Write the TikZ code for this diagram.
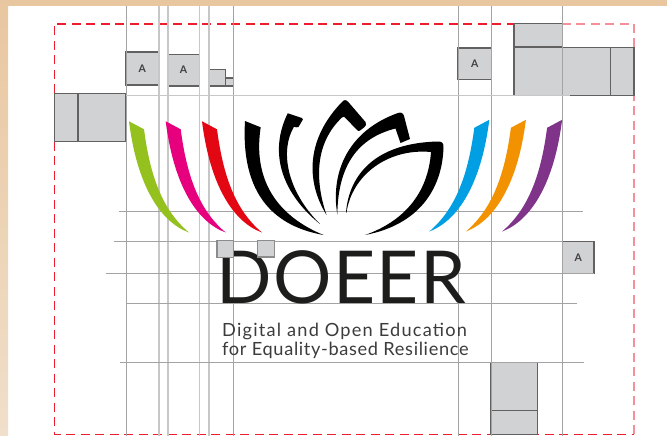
\documentclass[tikz,border=0pt]{standalone}
\usepackage{fontspec}
\setmainfont{Lato}
\definecolor{boxgrey}{HTML}{D1D2D4}
\definecolor{logoink}{HTML}{1D1D1B}
\definecolor{subink}{HTML}{3C3C3B}
\definecolor{petalgreen}{HTML}{95C11F}
\definecolor{petalmagenta}{HTML}{E6007E}
\definecolor{petalred}{HTML}{E30613}
\definecolor{petalblue}{HTML}{009FE3}
\definecolor{petalorange}{HTML}{F39200}
\definecolor{petalpurple}{HTML}{7F3489}
\definecolor{tantop}{HTML}{E8C7A0}
\definecolor{tanbottom}{HTML}{F0DFCB}
\definecolor{cutred}{HTML}{ED1C2E}
\definecolor{cutpink}{HTML}{F4909A}
\begin{document}
\begin{tikzpicture}[x=1pt,y=-1pt,
  gbox/.style={draw=black!62,fill=boxgrey,line width=1.1pt,inner sep=0pt,outer sep=0pt,anchor=north west,text=black!75,font=\fontsize{10.5}{10.5}\selectfont\bfseries},
  guide/.style={draw=black!36,line width=0.8pt},
  guidelight/.style={draw=black!22,line width=1.3pt},
  cutline/.style={line width=1.2pt,dash pattern=on 9pt off 5.5pt},
  logotext/.style={inner sep=0pt,anchor=base west,text=logoink}]
\useasboundingbox (0,0) rectangle (667,436);
\fill[white] (0,0) rectangle (667,436);
\shade[top color=tantop,bottom color=tanbottom] (0,0) rectangle (8,436);
\fill[tantop] (0,0) rectangle (667,6);
% cut marks
\draw[cutline,draw=cutred] (54.3,93.5) -- (54.3,24) -- (514,24);
\draw[cutline,draw=cutred] (54.3,141.5) -- (54.3,434.3) -- (634,434.3);
\draw[cutline,line width=1.3pt,draw=cutpink] (634,434.3) -- (634,95.5);
\draw[cutline,line width=1.3pt,draw=cutpink] (634,47.5) -- (634,24) -- (562.4,24);
% clear-space boxes
\node[gbox,minimum width=32.5pt,minimum height=33pt] (a1) at (126,52) {A};
\node[gbox,minimum width=32pt,minimum height=31.7pt] (a2) at (167.5,54.3) {A};
\node[gbox,minimum width=16.5pt,minimum height=16.5pt] (s1) at (209,69.5) {};
\node[gbox,minimum width=7.7pt,minimum height=8pt] (s2) at (225.5,78) {};
\node[gbox,minimum width=23.7pt,minimum height=48pt] (l1) at (54.3,93.5) {};
\node[gbox,minimum width=48pt,minimum height=48pt] (l2) at (78,93.5) {};
\node[gbox,minimum width=33.5pt,minimum height=31.7pt] (a3) at (458,48) {A};
\node[gbox,minimum width=48.5pt,minimum height=23.5pt] (t1) at (514,23.5) {};
\node[gbox,minimum width=96.7pt,minimum height=48pt] (t2) at (514,47.5) {};
\node[gbox,minimum width=23.3pt,minimum height=48pt] (t3) at (610.7,47.5) {};
\node[gbox,minimum width=31.3pt,minimum height=31.6pt] (a4) at (562.7,241.7) {A};
\node[gbox,minimum width=47pt,minimum height=48.2pt] (b1) at (490.7,362.5) {};
\node[gbox,minimum width=47pt,minimum height=23.8pt] (b2) at (490.7,410.7) {};
% guides
\foreach \gx in {126,233.3,458,491.3,562.4} \draw[guide] (\gx,6) -- (\gx,436);
\foreach \gx in {159,168,199.7,209} \draw[guidelight] (\gx,6) -- (\gx,436);
\draw[guidelight,line width=1pt] (126,96) -- (570,96);
\draw[guide] (118.5,211) -- (582.7,211);
\draw[guide] (114,241.7) -- (562.7,241.7);
\draw[guide] (106,273.3) -- (594,273.3);
\draw[guide] (126,303.3) -- (576.7,303.3);
\draw[guide] (119.5,362.3) -- (584,362.3);
% colour side petals
\def\leftpetal#1#2{\fill[#1,shift={(#2,0)}] (129,121.3) -- (144,129.3) .. controls (150,175) and (162,210) .. (189,232.5) .. controls (160,222) and (137,185) .. (129,121.3) -- cycle;}
\def\rightpetal#1#2{\fill[#1,shift={(#2,-1.5)}] (489.3,121.3) -- (474.3,129.3) .. controls (468.3,175) and (456.3,210) .. (429.3,233) .. controls (458.3,222) and (481.3,185) .. (489.3,121.3) -- cycle;}
\leftpetal{petalgreen}{0}
\leftpetal{petalmagenta}{36.7}
\leftpetal{petalred}{73}
\rightpetal{petalblue}{0}
\rightpetal{petalorange}{36.6}
\rightpetal{petalpurple}{72.8}
% black lotus
\fill[black] (245,121) -- (260.7,127.3) .. controls (254,170) and (268,212) .. (323.5,235) .. controls (285,228) and (240,205) .. (245,121) -- cycle;
\fill[black] (287.7,113.3) -- (302,118) .. controls (303,119) and (303,120) .. (302,121) -- (298.5,127) .. controls (297,128) and (295,127) .. (294,126.7) .. controls (280,150) and (286,190) .. (320,224) .. controls (290,200) and (265,160) .. (287.7,113.3) -- cycle;
\fill[black] (326.5,215) .. controls (305,180) and (307,138) .. (342,102) .. controls (344,99.5) and (346,99.5) .. (348.3,102) -- (365.5,122) .. controls (367,124) and (366,126) .. (364,127.5) -- (360,130.5) .. controls (359,131.5) and (358,131) .. (357,130) -- (345,117.5) .. controls (344,116.5) and (343,116.5) .. (342,117.5) .. controls (316,142) and (314,178) .. (326.5,215) -- cycle;
\fill[black] (337.3,214.5) .. controls (330,170) and (350,130) .. (398,113) .. controls (401,112) and (403,113) .. (404,116) -- (410,139) -- (400.5,143) -- (395.5,128.5) .. controls (358,138) and (338,165) .. (337.3,214.5) -- cycle;
\fill[black] (346,212.5) .. controls (349,175) and (375,143) .. (438,141.5) .. controls (442,141.5) and (444,143) .. (443.5,148) .. controls (442,190) and (418,225) .. (365,235) .. controls (402,222) and (428,195) .. (431,152) .. controls (388,148) and (352,175) .. (346.5,212.5) -- cycle;
% wordmark
\node[logotext,font=\fontsize{73}{73}\selectfont\addfontfeatures{LetterSpace=2}] (word) at (216,303.3) {DOEER};
\node[logotext,text=subink,font=\fontsize{18.2}{18.2}\selectfont\addfontfeatures{LetterSpace=6.7}] (sub1) at (222,336.7) {Digital and Open Education};
\node[logotext,text=subink,font=\fontsize{18.2}{18.2}\selectfont\addfontfeatures{LetterSpace=3.6}] (sub2) at (222,355) {for Equality-based Resilience};
% boxes over the wordmark
\node[gbox,draw=black!45,minimum width=16.5pt,minimum height=16.5pt] (d1) at (217,240.7) {};
\node[gbox,draw=black!45,minimum width=16.8pt,minimum height=16.5pt] (d2) at (257.7,240.5) {};
\end{tikzpicture}
\end{document}
